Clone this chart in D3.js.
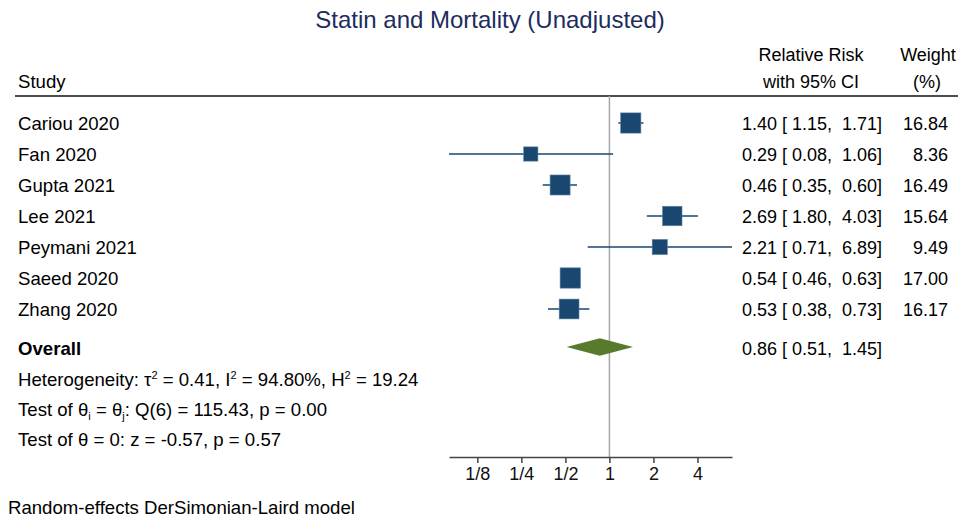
<!DOCTYPE html>
<html>
<head>
<meta charset="utf-8">
<script src="https://cdn.jsdelivr.net/npm/d3@7"></script>
<style>
  body { margin: 0; background: #fff; }
  text { font-family: "Liberation Sans", Arial, sans-serif; }
</style>
</head>
<body>
<div id="chart"></div>
<script>
const studies = ['Cariou 2020', 'Fan 2020', 'Gupta 2021', 'Lee 2021', 'Peymani 2021', 'Saeed 2020', 'Zhang 2020'];
const rr = [1.40, 0.29, 0.46, 2.69, 2.21, 0.54, 0.53];
const lower = [1.15, 0.08, 0.35, 1.80, 0.71, 0.46, 0.38];
const upper = [1.71, 1.06, 0.60, 4.03, 6.89, 0.63, 0.73];
const weights = [16.84, 8.36, 16.49, 15.64, 9.49, 17.00, 16.17];
const overall = { rr: 0.86, lower: 0.51, upper: 1.45 };
const tickValues = [0.125, 0.25, 0.5, 1, 2, 4];
const tickLabels = ['1/8', '1/4', '1/2', '1', '2', '4'];

const width = 959, height = 517;
const navy = '#1a476f', green = '#577a2c';

const svg = d3.select('#chart').append('svg')
  .attr('width', width)
  .attr('height', height);

// log2 x scale spanning the full CI range
const x = d3.scaleLog().base(2)
  .domain([d3.min(lower), d3.max(upper)])
  .range([449, 732]);

const rowY = d3.scaleLinear().domain([0, 1]).range([123, 154]);
const overallY = 347;
const axisY = 457;
const fs = 18;
const fsLeft = 18.6;

// title
svg.append('text')
  .attr('x', 490).attr('y', 28)
  .attr('text-anchor', 'middle')
  .attr('font-size', 24)
  .attr('fill', '#1c2d5e')
  .text('Statin and Mortality (Unadjusted)');

// headers
svg.append('text').attr('x', 18).attr('y', 88).attr('font-size', fsLeft).text('Study');
const hdr = svg.append('g').attr('font-size', fs).attr('text-anchor', 'middle');
hdr.append('text').attr('x', 811).attr('y', 61).text('Relative Risk');
hdr.append('text').attr('x', 811).attr('y', 88).text('with 95% CI');
hdr.append('text').attr('x', 928).attr('y', 61).text('Weight');
hdr.append('text').attr('x', 927).attr('y', 88).text('(%)');

svg.append('line')
  .attr('x1', 15).attr('x2', 958)
  .attr('y1', 96).attr('y2', 96)
  .attr('stroke', '#111').attr('stroke-width', 1.5);

// no-effect line
svg.append('line')
  .attr('x1', x(1)).attr('x2', x(1))
  .attr('y1', 96).attr('y2', axisY)
  .attr('stroke', '#a8a8a8').attr('stroke-width', 1.5);

// study rows
const rows = svg.append('g').selectAll('g')
  .data(studies)
  .join('g')
  .attr('transform', (d, i) => `translate(0,${rowY(i)})`);

rows.append('line')
  .attr('x1', (d, i) => x(lower[i]))
  .attr('x2', (d, i) => x(upper[i]))
  .attr('stroke', navy).attr('stroke-width', 1.5);

const side = i => 4.93 * Math.sqrt(weights[i]);
rows.append('rect')
  .attr('x', (d, i) => x(rr[i]) - side(i) / 2)
  .attr('y', (d, i) => -side(i) / 2)
  .attr('width', (d, i) => side(i))
  .attr('height', (d, i) => side(i))
  .attr('fill', navy)
  .attr('stroke', '#5f84a6').attr('stroke-width', 0.6);

rows.append('text')
  .attr('x', 18).attr('y', 6.5)
  .attr('font-size', fsLeft)
  .text(d => d);

const f2 = d3.format('.2f');
const ciText = (e, l, u) => `${f2(e)} [${f2(l).padStart(5, ' ')}, ${f2(u).padStart(5, ' ')}]`;

rows.append('text')
  .attr('x', 882).attr('y', 6.5)
  .attr('font-size', fs)
  .attr('text-anchor', 'end')
  .style('white-space', 'pre')
  .text((d, i) => ciText(rr[i], lower[i], upper[i]));

rows.append('text')
  .attr('x', 948).attr('y', 6.5)
  .attr('font-size', fs)
  .attr('text-anchor', 'end')
  .text((d, i) => f2(weights[i]));

// overall diamond
const dh = 8.8;
svg.append('path')
  .attr('d', `M${x(overall.lower)},${overallY} L${x(overall.rr)},${overallY - dh} L${x(overall.upper)},${overallY} L${x(overall.rr)},${overallY + dh} Z`)
  .attr('fill', green);

svg.append('text')
  .attr('x', 18).attr('y', overallY + 7.5)
  .attr('font-size', fsLeft).attr('font-weight', 'bold')
  .text('Overall');

svg.append('text')
  .attr('x', 882).attr('y', overallY + 7.5)
  .attr('font-size', fs).attr('text-anchor', 'end')
  .style('white-space', 'pre')
  .text(ciText(overall.rr, overall.lower, overall.upper));

// heterogeneity & tests
const stats = svg.append('g').attr('font-size', fsLeft);
const sup = (t, s) => t.append('tspan').attr('font-size', 11).attr('baseline-shift', '7').text(s);
const sub = (t, s) => t.append('tspan').attr('font-size', 11).attr('baseline-shift', '-4').text(s);

let t = stats.append('text').attr('x', 18).attr('y', 385.5);
t.append('tspan').text('Heterogeneity: \u03c4');
sup(t, '2');
t.append('tspan').text(' = 0.41, I');
sup(t, '2');
t.append('tspan').text(' = 94.80%, H');
sup(t, '2');
t.append('tspan').text(' = 19.24');

t = stats.append('text').attr('x', 18).attr('y', 416);
t.append('tspan').text('Test of \u03b8');
sub(t, 'i');
t.append('tspan').text(' = \u03b8');
sub(t, 'j');
t.append('tspan').text(': Q(6) = 115.43, p = 0.00');

stats.append('text').attr('x', 18).attr('y', 446)
  .text('Test of \u03b8 = 0: z = -0.57, p = 0.57');

// axis
const axis = svg.append('g')
  .attr('transform', `translate(0,${axisY})`)
  .call(d3.axisBottom(x)
    .tickValues(tickValues)
    .tickFormat((d, i) => tickLabels[i])
    .tickSize(6)
    .tickSizeOuter(0)
    .tickPadding(4));
axis.select('.domain').attr('stroke', '#444').attr('stroke-width', 1.5);
axis.selectAll('.tick line').attr('stroke', '#444').attr('stroke-width', 1.5);
axis.selectAll('.tick text')
  .attr('font-size', fs)
  .attr('font-family', '"Liberation Sans", Arial, sans-serif')
  .attr('fill', '#111');

// note
svg.append('text')
  .attr('x', 8).attr('y', 513.5)
  .attr('font-size', fsLeft)
  .text('Random-effects DerSimonian-Laird model');
</script>
</body>
</html>
